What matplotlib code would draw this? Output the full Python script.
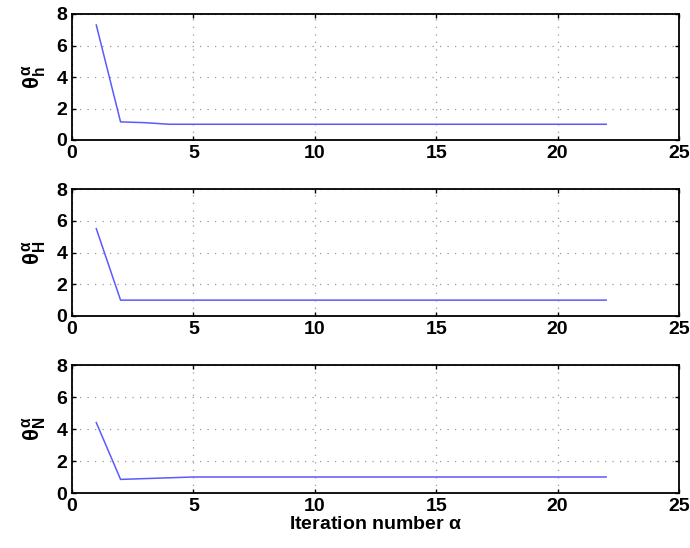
import matplotlib
matplotlib.use("Agg")
import matplotlib.pyplot as plt

iterations = list(range(1, 23))
theta_h = [7.3, 1.15, 1.1, 1.0, 1.0, 1.0, 1.0, 1.0, 1.0, 1.0, 1.0, 1.0, 1.0, 1.0, 1.0, 1.0, 1.0, 1.0, 1.0, 1.0, 1.0, 1.0]
theta_H = [5.5, 1.0, 1.0, 1.0, 1.0, 1.0, 1.0, 1.0, 1.0, 1.0, 1.0, 1.0, 1.0, 1.0, 1.0, 1.0, 1.0, 1.0, 1.0, 1.0, 1.0, 1.0]
theta_N = [4.4, 0.85, 0.9, 0.95, 1.0, 1.0, 1.0, 1.0, 1.0, 1.0, 1.0, 1.0, 1.0, 1.0, 1.0, 1.0, 1.0, 1.0, 1.0, 1.0, 1.0, 1.0]
ylabels = [r'$\theta^{\alpha}_{\mathbf{h}}$', r'$\theta^{\alpha}_{\mathbf{H}}$', r'$\theta^{\alpha}_{\mathbf{N}}$']
xticks = [0, 5, 10, 15, 20, 25]
yticks = [0, 2, 4, 6, 8]

plt.rcParams['font.family'] = ['Liberation Sans', 'DejaVu Sans']
plt.rcParams['font.weight'] = 'bold'
plt.rcParams['mathtext.fontset'] = 'custom'
plt.rcParams['mathtext.rm'] = 'Liberation Sans'
plt.rcParams['mathtext.it'] = 'Liberation Sans'
plt.rcParams['mathtext.bf'] = 'Liberation Sans:bold'

fig = plt.figure(figsize=(6.9, 5.48), dpi=100)
W, H = 690, 548
boxes = [(14, 140), (189, 316), (365, 493)]
left, right = 72, 679
series = [theta_h, theta_H, theta_N]
for (top, bot), ys, lab in zip(boxes, series, ylabels):
    ax = fig.add_axes([left / W, 1 - bot / H, (right - left) / W, (bot - top) / H])
    ax.plot(iterations, ys, color='#5a5aff', lw=1.1)
    ax.set_xlim(0, 25)
    ax.set_ylim(0, 8)
    ax.set_xticks(xticks)
    ax.set_yticks(yticks)
    ax.grid(True, linestyle=(0, (1, 5)), color='#999999', lw=0.9)
    ax.tick_params(direction='in', labelsize=14, length=3, width=1,
                   top=True, right=True)
    for lbl in ax.get_xticklabels() + ax.get_yticklabels():
        lbl.set_fontweight('bold')
    for s in ax.spines.values():
        s.set_linewidth(1.3)
    ax.set_ylabel(lab, fontsize=16, labelpad=6)
    if top == 365:
        ax.set_xlabel(r'Iteration number $\alpha$', fontsize=14, fontweight='bold', labelpad=1)

fig.savefig('out.png', dpi=100)
